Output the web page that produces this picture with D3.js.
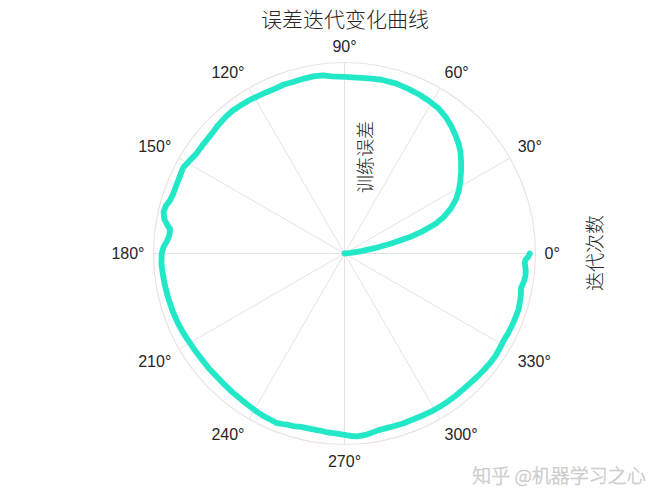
<!DOCTYPE html>
<html>
<head>
<meta charset="utf-8">
<script src="https://cdn.jsdelivr.net/npm/d3@7"></script>
<style>
  html, body { margin: 0; padding: 0; background: #ffffff; }
  svg { display: block; }
</style>
</head>
<body>
<svg id="chart" width="667" height="500"></svg>
<script>
// ---- data ----
const titleText = "误差迭代变化曲线";
const radialLabel = "训练误差";
const angleLabel = "迭代次数";
const watermark = "知乎 @机器学习之心";

// iteration expressed as polar angle (degrees)
const thetaDeg = [0, 3, 6, 8, 10, 12, 14, 16, 18, 20, 23, 26, 29, 32, 35, 38, 41, 44, 47, 50, 53, 57, 61, 65, 69, 73, 78, 82, 86, 90,
  94, 97, 100, 103, 107, 110, 113, 116, 119, 122, 125, 128, 131, 135, 138, 142, 146, 149, 152, 155, 158, 161, 163, 165, 167, 169, 171, 172, 174, 176, 178,
  180, 183, 186, 190, 194, 199, 203, 207, 210, 214, 218, 221, 225, 228, 231, 235, 238, 240, 243, 246, 248, 250, 252, 254, 256, 259, 262, 264, 267,
  270, 272, 274, 277, 281, 285, 289, 293, 296, 299, 302, 305, 308, 311, 314, 317, 320, 323, 326, 329, 332, 334, 337, 340, 342, 345, 347, 349, 351, 353, 355, 357, 358, 359, 360];
// training error (fraction of outer ring)
const errVals = [0.000, 0.010, 0.040, 0.090, 0.160, 0.250, 0.350, 0.430, 0.500, 0.550, 0.605, 0.650, 0.685, 0.715, 0.745, 0.775, 0.805, 0.830, 0.850, 0.870, 0.887, 0.905, 0.913, 0.920, 0.925, 0.930, 0.930, 0.926, 0.923, 0.925,
  0.930, 0.940, 0.942, 0.940, 0.938, 0.940, 0.936, 0.938, 0.941, 0.945, 0.947, 0.950, 0.948, 0.942, 0.936, 0.935, 0.935, 0.945, 0.957, 0.952, 0.950, 0.950, 0.955, 0.968, 0.972, 0.962, 0.938, 0.922, 0.922, 0.932, 0.948,
  0.957, 0.960, 0.958, 0.955, 0.952, 0.949, 0.945, 0.940, 0.935, 0.932, 0.930, 0.930, 0.929, 0.931, 0.934, 0.937, 0.941, 0.945, 0.950, 0.953, 0.956, 0.950, 0.944, 0.942, 0.936, 0.935, 0.936, 0.940, 0.943,
  0.950, 0.956, 0.960, 0.955, 0.942, 0.940, 0.941, 0.940, 0.942, 0.944, 0.945, 0.945, 0.945, 0.944, 0.945, 0.948, 0.951, 0.954, 0.955, 0.952, 0.950, 0.953, 0.955, 0.956, 0.957, 0.952, 0.948, 0.942, 0.950, 0.955, 0.952, 0.945, 0.948, 0.962, 0.970];

const angleTicks = [0, 30, 60, 90, 120, 150, 180, 210, 240, 270, 300, 330];
const angleTickLabels = ["0°", "30°", "60°", "90°", "120°", "150°", "180°", "210°", "240°", "270°", "300°", "330°"];

// ---- layout ----
const svg = d3.select("#chart");
const cx = 344.5, cy = 253.5, R = 191;

const aScale = d3.scaleLinear().domain([0, 360]).range([0, 2 * Math.PI]);
const rScale = d3.scaleLinear().domain([0, 1]).range([0, R]);

const g = svg.append("g").attr("transform", `translate(${cx},${cy})`);

// spokes
g.selectAll("line.spoke")
  .data(angleTicks)
  .join("line")
  .attr("class", "spoke")
  .attr("x1", 0).attr("y1", 0)
  .attr("x2", d => rScale(1) * Math.cos(aScale(d)))
  .attr("y2", d => -rScale(1) * Math.sin(aScale(d)))
  .attr("stroke", "#e3e3e3")
  .attr("stroke-width", 1);

// outer ring
g.append("circle")
  .attr("r", rScale(1))
  .attr("fill", "none")
  .attr("stroke", "#ece2e2")
  .attr("stroke-width", 1.2);

// angle labels
const labR = R + 9;
g.selectAll("text.alab")
  .data(angleTicks)
  .join("text")
  .attr("class", "alab")
  .attr("x", d => labR * Math.cos(aScale(d)))
  .attr("y", d => -labR * Math.sin(aScale(d)))
  .attr("text-anchor", d => {
    const c = Math.cos(aScale(d));
    return c > 0.1 ? "start" : (c < -0.1 ? "end" : "middle");
  })
  .attr("dy", d => {
    const s = Math.sin(aScale(d));
    return s > 0.1 ? "-0.12em" : (s < -0.1 ? "0.85em" : "0.35em");
  })
  .attr("font-family", "'Liberation Sans', Arial, sans-serif")
  .attr("font-size", 16)
  .attr("fill", "#262626")
  .text((d, i) => angleTickLabels[i]);

// data line
const pts = thetaDeg.map((t, i) => ({ t: t, v: errVals[i] }));
const line = d3.lineRadial()
  .angle(d => Math.PI / 2 - aScale(d.t))
  .radius(d => rScale(d.v))
  .curve(d3.curveLinear);

g.append("path")
  .datum(pts)
  .attr("d", line)
  .attr("fill", "none")
  .attr("stroke", "#22e8c8")
  .attr("stroke-width", 5.8)
  .attr("stroke-linejoin", "round")
  .attr("stroke-linecap", "round");

// title
svg.append("text")
  .attr("x", 345).attr("y", 18)
  .attr("text-anchor", "middle")
  .attr("dominant-baseline", "central")
  .attr("font-family", "'Noto Sans CJK SC', sans-serif")
  .attr("font-size", 21)
  .attr("font-weight", 300)
  .attr("fill", "#262626")
  .text(titleText);

// radial axis label (vertical)
svg.append("text")
  .attr("transform", "translate(364,157) rotate(-90)")
  .attr("text-anchor", "middle")
  .attr("dominant-baseline", "central")
  .attr("font-family", "'Noto Sans CJK SC', sans-serif")
  .attr("font-size", 18)
  .attr("font-weight", 300)
  .attr("fill", "#262626")
  .text(radialLabel);

// angle axis label (vertical, right)
svg.append("text")
  .attr("transform", "translate(593,253) rotate(-90)")
  .attr("text-anchor", "middle")
  .attr("dominant-baseline", "central")
  .attr("font-family", "'Noto Sans CJK SC', sans-serif")
  .attr("font-size", 19)
  .attr("font-weight", 300)
  .attr("fill", "#262626")
  .text(angleLabel);

// watermark
svg.append("text")
  .attr("x", 559).attr("y", 474)
  .attr("text-anchor", "middle")
  .attr("dominant-baseline", "central")
  .attr("font-family", "'Noto Sans CJK SC', sans-serif")
  .attr("font-size", 19)
  .attr("font-weight", 300)
  .attr("fill", "#e2e2e2")
  .attr("stroke", "#c4c4c4")
  .attr("stroke-width", 0.5)
  .text(watermark);
</script>
</body>
</html>
